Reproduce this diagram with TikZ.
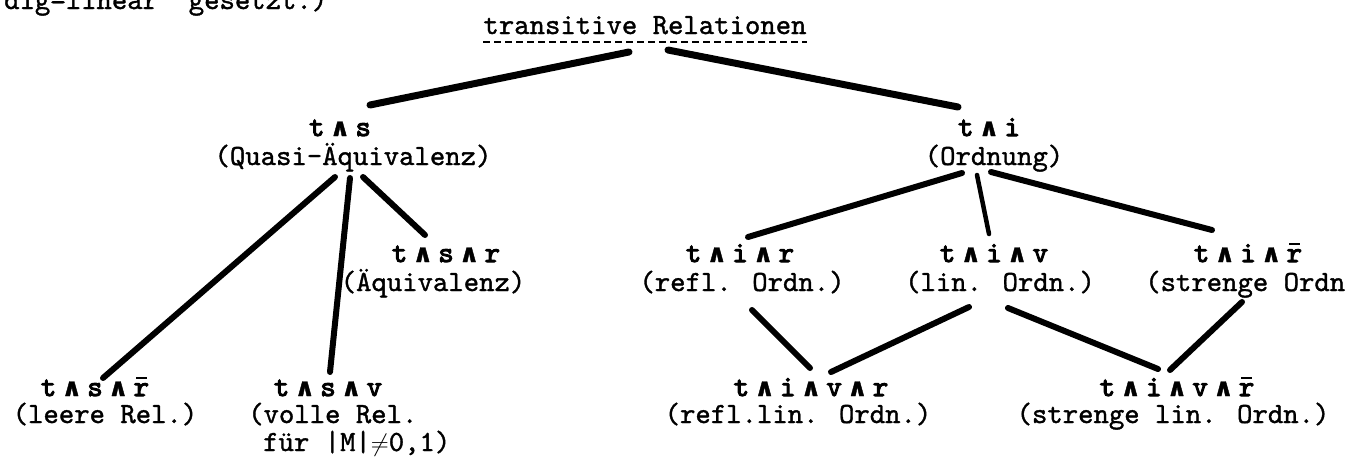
\documentclass[tikz,border=0pt]{standalone}
\usepackage{fontspec}
\newfontfamily\symf{DejaVu Sans}[FakeBold=1.5]
\newfontfamily\twf{lmmono10-regular.otf}[FakeBold=1.2]
\newfontfamily\twbf{lmmono10-regular.otf}[FakeBold=3.5]
\usetikzlibrary{calc}
\newcommand\AND{\makebox[31pt]{\symf\bfseries\fontsize{25}{25}\selectfont ∧}}
\newcommand\nr{\makebox[0pt][l]{\hspace{2.5pt}\rule[17pt]{11pt}{2.5pt}}r}
\newcommand\twfont{\twf\fontsize{29.3}{29}\selectfont}
\newcommand\twbold{\twbf\fontsize{29.3}{29}\selectfont}
\begin{document}
\begin{tikzpicture}[x=1pt,y=-1pt,
  every node/.style={inner sep=0pt, anchor=base, font=\twfont},
  fm/.style={font=\twbold},
  edge/.style={line width=6pt, line cap=round},
  thinedge/.style={line width=4.5pt, line cap=round}]
\useasboundingbox (0,0) rectangle (1351,466);
% cut-off line at the top
\node[anchor=base west] (cut) at (4,9) {dig=linear" gesetzt.)};
% root
\node (top) at (645,34) {transitive Relationen};
\draw[line width=2.5pt, dash pattern=on 7pt off 4pt] ($(top.base west)+(0,8)$) -- ($(top.base east)+(0,8)$);
% level 1
\node[fm] (ts) at (340,136) {t\AND s};
\node (tsD) at (353,165) {(Quasi-Äquivalenz)};
\node[fm] (ti) at (989,136) {t\AND i};
\node (tiD) at (994,165) {(Ordnung)};
% level 2
\node[fm] (tsr) at (446,262) {t\AND s\AND r};
\node (tsrD) at (433,291) {(Äquivalenz)};
\node[fm] (tir) at (740,262) {t\AND i\AND r};
\node (tirD) at (742,291) {(refl. Ordn.)};
\node[fm] (tiv) at (994,262) {t\AND i\AND v};
\node (tivD) at (1000,291) {(lin. Ordn.)};
\node[fm] (tirb) at (1248,262) {t\AND i\AND\nr};
\node[anchor=base west] (tirbD) at (1145,291) {(strenge Ordn};
% level 3
\node[fm] (tsrb) at (95,396) {t\AND s\AND\nr};
\node (tsrbD) at (105,423) {(leere Rel.)};
\node[fm] (tsv) at (328,396) {t\AND s\AND v};
\node[anchor=base west] (tsvD) at (248,423) {(volle Rel.};
\node[anchor=base west] (tsvE) at (263,451) {für |M|$\neq$0,1)};
\node[fm] (tivr) at (811,396) {t\AND i\AND v\AND r};
\node (tivrD) at (798,423) {(refl.lin. Ordn.)};
\node[fm] (tivrb) at (1177,396) {t\AND i\AND v\AND\nr};
\node (tivrbD) at (1173,423) {(strenge lin. Ordn.)};
% connectors
\draw[edge, line width=7pt] ($(top.base)+(-16,18)$) -- ($(ts.base)+(30,-31)$);
\draw[edge, line width=7pt] ($(top.base)+(23,16)$) -- ($(ti.base)+(-31,-29)$);
\draw[edge] ($(tsD.base)+(-18,12)$) -- ($(tsrb.base)+(8,-18)$);
\draw[edge] ($(tsD.base)+(-3,13)$) -- ($(tsv.base)+(2,-24)$);
\draw[edge] ($(tsD.base)+(10,12)$) -- ($(tsr.base)+(-21,-27)$);
\draw[edge] ($(tiD.base)+(-32,8)$) -- ($(tir.base)+(8,-25)$);
\draw[thinedge] ($(tiD.base)+(-17,10)$) -- ($(tiv.base)+(-5,-28)$);
\draw[edge] ($(tiD.base)+(-3,7)$) -- ($(tirb.base)+(-36,-32)$);
\draw[edge] ($(tirD.base)+(10,19)$) -- ($(tivr.base)+(-1,-28)$);
\draw[edge] ($(tivD.base)+(-31,16)$) -- ($(tivr.base)+(20,-24)$);
\draw[edge] ($(tivD.base)+(8,17)$) -- ($(tivrb.base)+(-19,-27)$);
\draw[edge] ($(tirbD.base west)+(97,11)$) -- ($(tivrb.base)+(-7,-26)$);
\end{tikzpicture}
\end{document}
